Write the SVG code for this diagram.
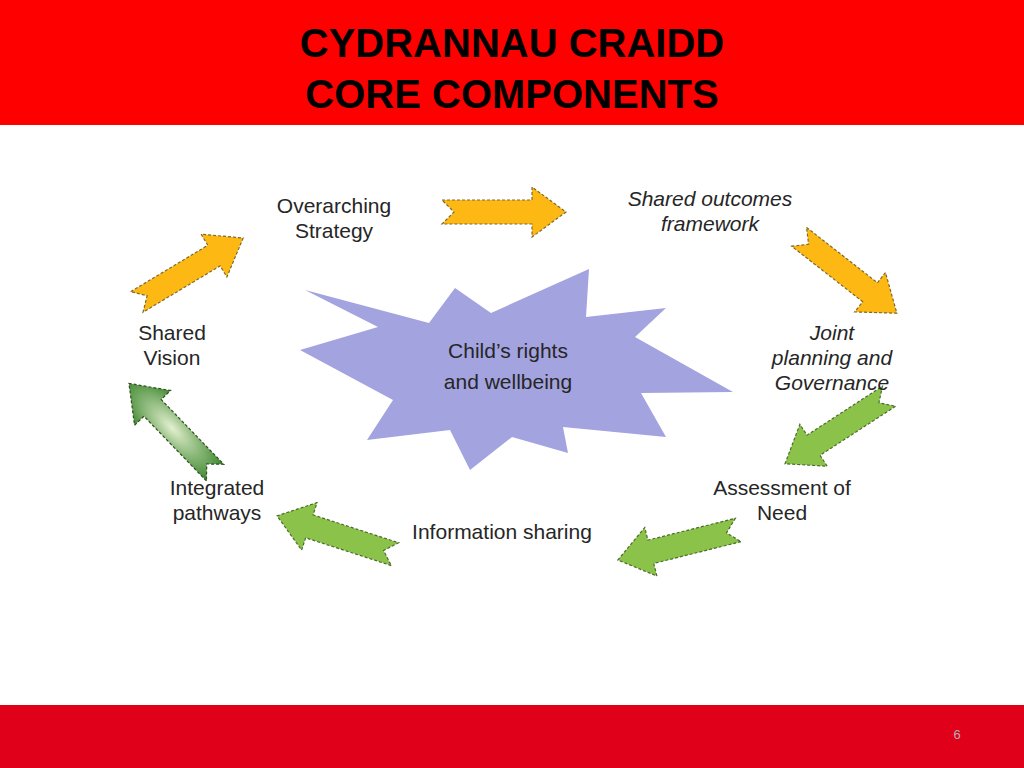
<svg xmlns="http://www.w3.org/2000/svg" width="1024" height="768" viewBox="0 0 1024 768">
<style>
.t{font-family:"Liberation Sans",Arial,sans-serif;font-size:21px;fill:#262626;text-anchor:middle}
.i{font-style:italic}
.h{font-family:"Liberation Sans",Arial,sans-serif;font-size:40px;font-weight:bold;fill:#000;text-anchor:middle}
.y{fill:#FDB813;stroke:#7a6a30;stroke-width:1.2;stroke-dasharray:3,2}
.g{fill:#8BC34A;stroke:#4d6b2a;stroke-width:1.2;stroke-dasharray:3,2}
.d{fill:url(#dg);stroke:#2f4f1f;stroke-width:1.2;stroke-dasharray:3,2}
</style>
<defs>
<path id="ar" d="M-62,-12 L28,-12 L28,-25 L62,0 L28,25 L28,12 L-62,12 L-50,0 Z"/>
<radialGradient id="dg" cx="0.5" cy="0.5" r="0.6"><stop offset="0" stop-color="#e3f0d0"/><stop offset="1" stop-color="#2e7d1f"/></radialGradient>
</defs>
<rect x="0" y="0" width="1024" height="125" fill="#ff0000"/>
<text class="h" x="512" y="57">CYDRANNAU CRAIDD</text>
<text class="h" x="512" y="108">CORE COMPONENTS</text>
<rect x="0" y="705" width="1024" height="63" fill="#e0001a"/>
<text x="957" y="739" font-family="Liberation Sans,sans-serif" font-size="13" fill="#b0b0b0" text-anchor="middle">6</text>
<g id="star"><polygon fill="#a3a3e0" points="305,290 429,323 455,288 491,313 589,269 586,317 666,308 635,337 733,392 641,393 666,437 563,427 568,453 512,437 470,470 450,430 367,440 393,400 300,350 378,327"/>
<text class="t" x="508" y="358" font-size="25">Child’s rights</text>
<text class="t" x="508" y="389" font-size="25">and wellbeing</text></g>
<g id="connectors">
<use href="#ar" class="y" transform="translate(504,212)"/>
<use href="#ar" class="y" transform="translate(848,275) rotate(38)"/>
<use href="#ar" class="g" transform="translate(837,430) rotate(147)"/>
<use href="#ar" class="g" transform="translate(678,545) rotate(166)"/>
<use href="#ar" class="g" transform="translate(336,535) rotate(198)"/>
<use href="#ar" class="d" transform="translate(172,428) rotate(226)"/>
<use href="#ar" class="y" transform="translate(190,270) rotate(-31)"/>
</g>
<g id="n1"><text class="t" x="334" y="213">Overarching</text><text class="t" x="334" y="238">Strategy</text></g>
<g id="n2"><text class="t i" x="710" y="206">Shared outcomes</text><text class="t i" x="710" y="231">framework</text></g>
<g id="n3"><text class="t i" x="832" y="340">Joint</text><text class="t i" x="832" y="365">planning and</text><text class="t i" x="832" y="390">Governance</text></g>
<g id="n4"><text class="t" x="782" y="495">Assessment of</text><text class="t" x="782" y="520">Need</text></g>
<g id="n5"><text class="t" x="502" y="539">Information sharing</text></g>
<g id="n6"><text class="t" x="217" y="495">Integrated</text><text class="t" x="217" y="520">pathways</text></g>
<g id="n7"><text class="t" x="172" y="340">Shared</text><text class="t" x="172" y="365">Vision</text></g>
</svg>
